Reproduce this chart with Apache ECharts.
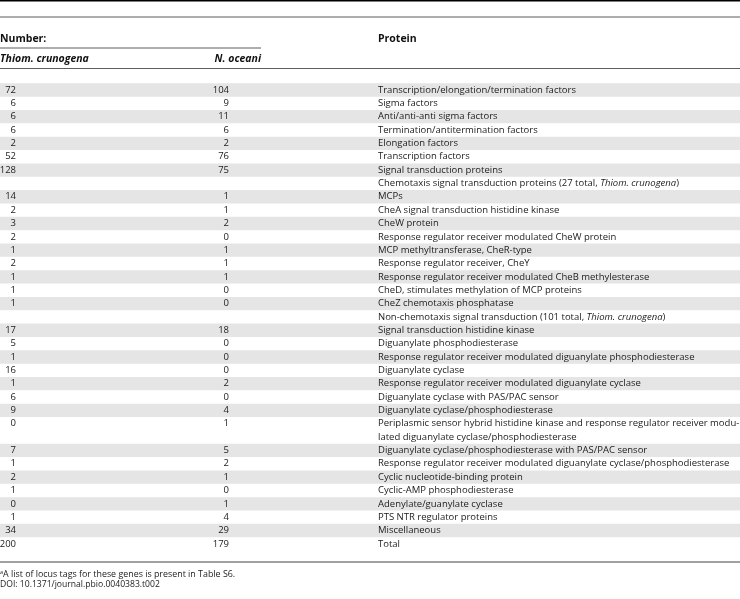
<!DOCTYPE html>
<html><head><meta charset="utf-8">
<script src="https://cdn.jsdelivr.net/npm/echarts@6/dist/echarts.min.js"></script>
<style>html,body{margin:0;padding:0;background:#fff}#c{width:740px;height:599px}</style>
</head><body><div id="c"></div>
<script>
// ---- data ----
const proteins = [
  "Transcription/elongation/termination factors",
  "Sigma factors",
  "Anti/anti-anti sigma factors",
  "Termination/antitermination factors",
  "Elongation factors",
  "Transcription factors",
  "Signal transduction proteins",
  "Chemotaxis signal transduction proteins (27 total, {i|Thiom. crunogena})",
  "MCPs",
  "CheA signal transduction histidine kinase",
  "CheW protein",
  "Response regulator receiver modulated CheW protein",
  "MCP methyltransferase, CheR-type",
  "Response regulator receiver, CheY",
  "Response regulator receiver modulated CheB methylesterase",
  "CheD, stimulates methylation of MCP proteins",
  "CheZ chemotaxis phosphatase",
  "Non-chemotaxis signal transduction (101 total, {i|Thiom. crunogena})",
  "Signal transduction histidine kinase",
  "Diguanylate phosphodiesterase",
  "Response regulator receiver modulated diguanylate phosphodiesterase",
  "Diguanylate cyclase",
  "Response regulator receiver modulated diguanylate cyclase",
  "Diguanylate cyclase with PAS/PAC sensor",
  "Diguanylate cyclase/phosphodiesterase",
  "Periplasmic sensor hybrid histidine kinase and response regulator receiver modu-\nlated diguanylate cyclase/phosphodiesterase",
  "Diguanylate cyclase/phosphodiesterase with PAS/PAC sensor",
  "Response regulator receiver modulated diguanylate cyclase/phosphodiesterase",
  "Cyclic nucleotide-binding protein",
  "Cyclic-AMP phosphodiesterase",
  "Adenylate/guanylate cyclase",
  "PTS NTR regulator proteins",
  "Miscellaneous",
  "Total"
];
const thiomCrunogena = [72,6,6,6,2,52,128,null,14,2,3,2,1,2,1,1,1,null,17,5,1,16,1,6,9,0,7,1,2,1,0,1,34,200];
const nOceani       = [104,9,11,6,2,76,75,null,1,1,2,0,1,1,1,0,0,null,18,0,0,0,2,0,4,1,5,2,1,0,1,4,29,179];
const headers = { number: "Number:", col1: "Thiom. crunogena", col2: "N. oceani", protein: "Protein" };
const footnotes = ["{s|a}A list of locus tags for these genes is present in Table S6.", "DOI: 10.1371/journal.pbio.0040383.t002"];

// ---- layout helpers ----
const lineCounts = proteins.map(p => p.split("\n").length);
const lineStart = [];
let acc = 0;
lineCounts.forEach(n => { lineStart.push(acc); acc += n; });
const totalLines = acc;

const FONT = '"Open Sans", "DejaVu Sans", sans-serif';
const FS = 9.5;
const HFS = 10.5;
const ROW_H = 13.35;
const TOP = 83.3;
const COL1_X = 16, COL2_X = 229, PROT_X = 378;
const TXT = '#1b1b1b';

const chart = echarts.init(document.getElementById('c'), null, { renderer: 'canvas' });

const rowData = proteins.map((p, i) => [i, lineStart[i], lineCounts[i]]);

function renderRow(params, api) {
  const i = api.value(0), start = api.value(1), n = api.value(2);
  const tl = api.coord([0, start]);
  const br = api.coord([740, start + n]);
  const firstMid = api.coord([0, start + 0.5])[1];
  const children = [];
  if (i % 2 === 0) {
    children.push({ type: 'rect', shape: { x: tl[0], y: tl[1], width: br[0] - tl[0], height: br[1] - tl[1] },
      style: { fill: '#e5e5e5' }, silent: true });
  }
  const base = { fill: TXT, fontFamily: FONT, fontSize: FS };
  if (thiomCrunogena[i] !== null) {
    children.push({ type: 'text', style: Object.assign({}, base, { text: String(thiomCrunogena[i]),
      x: api.coord([COL1_X, 0])[0], y: firstMid, align: 'right', verticalAlign: 'middle' }) });
  }
  if (nOceani[i] !== null) {
    children.push({ type: 'text', style: Object.assign({}, base, { text: String(nOceani[i]),
      x: api.coord([COL2_X, 0])[0], y: firstMid, align: 'right', verticalAlign: 'middle' }) });
  }
  children.push({ type: 'text', style: Object.assign({}, base, { text: proteins[i],
    x: api.coord([PROT_X, 0])[0], y: tl[1], align: 'left', verticalAlign: 'top', lineHeight: ROW_H,
    rich: { i: { fontStyle: 'italic', fontFamily: FONT, fontSize: FS, fill: TXT, lineHeight: ROW_H } } }) });
  return { type: 'group', children };
}

const bold = { fill: '#111', fontFamily: FONT, fontSize: HFS, fontWeight: 'bold' };
const option = {
  animation: false,
  grid: { left: 0, right: 0, top: TOP, height: ROW_H * totalLines },
  xAxis: { type: 'value', min: 0, max: 740, show: false },
  yAxis: { type: 'value', min: 0, max: totalLines, inverse: true, show: false },
  series: [{ type: 'custom', renderItem: renderRow, data: rowData, clip: false }],
  graphic: [
    { type: 'line', shape: { x1: 0, y1: 0.75, x2: 740, y2: 0.75 }, style: { stroke: '#000', lineWidth: 1.5 } },
    { type: 'line', shape: { x1: 0, y1: 17, x2: 740, y2: 17 }, style: { stroke: '#333', lineWidth: 0.8 } },
    { type: 'line', shape: { x1: 0, y1: 48, x2: 261, y2: 48 }, style: { stroke: '#333', lineWidth: 0.8 } },
    { type: 'line', shape: { x1: 0, y1: 68.5, x2: 740, y2: 68.5 }, style: { stroke: '#333', lineWidth: 0.8 } },
    { type: 'line', shape: { x1: 0, y1: 562, x2: 740, y2: 562 }, style: { stroke: '#444', lineWidth: 1.2 } },
    { type: 'text', x: 0, y: 39, style: Object.assign({}, bold, { text: headers.number, verticalAlign: 'middle' }) },
    { type: 'text', x: 378, y: 39, style: Object.assign({}, bold, { text: headers.protein, verticalAlign: 'middle' }) },
    { type: 'text', x: 0, y: 59, style: Object.assign({}, bold, { text: headers.col1, fontStyle: 'italic', verticalAlign: 'middle' }) },
    { type: 'text', x: 261, y: 59, style: Object.assign({}, bold, { text: headers.col2, fontStyle: 'italic', align: 'right', verticalAlign: 'middle' }) },
    { type: 'text', x: 0, y: 574, style: { text: footnotes[0], fill: TXT, fontFamily: FONT, fontSize: 8.9, verticalAlign: 'middle',
      rich: { s: { fontSize: 5.5, fill: TXT, fontFamily: FONT, verticalAlign: 'top', padding: [0, 0, 4, 0] } } } },
    { type: 'text', x: 0, y: 585, style: { text: footnotes[1], fill: TXT, fontFamily: FONT, fontSize: 8.6, verticalAlign: 'middle' } }
  ]
};
chart.setOption(option);
</script></body></html>
